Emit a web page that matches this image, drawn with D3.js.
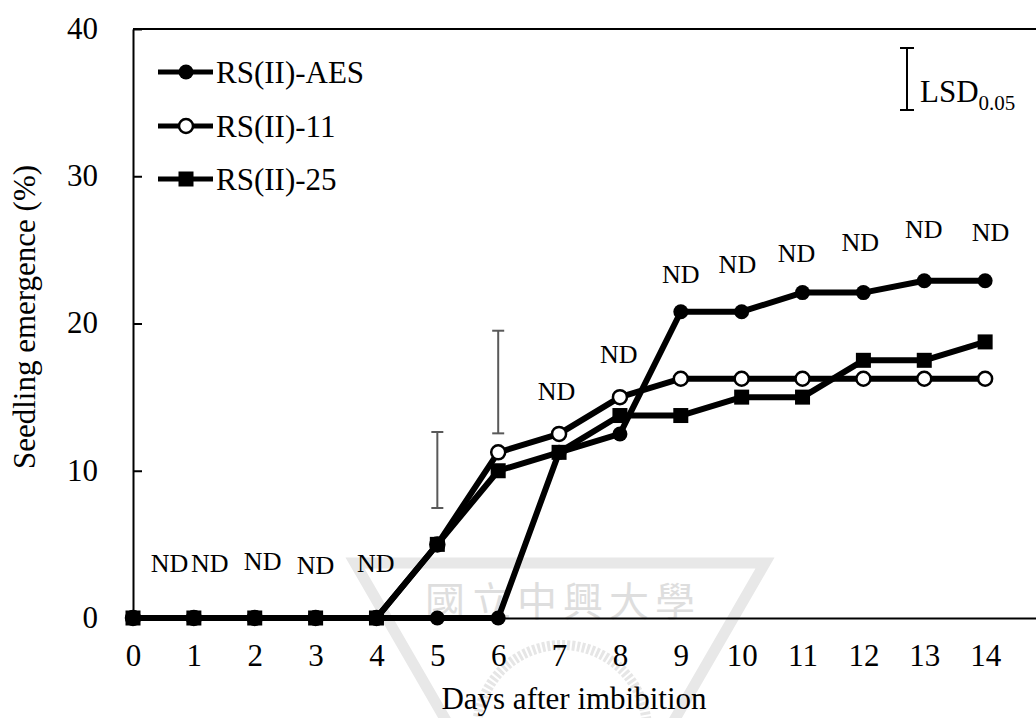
<!DOCTYPE html>
<html>
<head>
<meta charset="utf-8">
<script src="https://cdn.jsdelivr.net/npm/d3@7"></script>
<style>
    body { margin: 0; background: #fff; }
    svg { display: block; font-family: "Liberation Serif", "Times New Roman", serif; }
</style>
</head>
<body>
<svg id="chart" width="1036" height="718"></svg>
<script>

// data
var days = [0, 1, 2, 3, 4, 5, 6, 7, 8, 9, 10, 11, 12, 13, 14];
var aes  = [0, 0, 0, 0, 0, 0, 0, 11.25, 12.5, 20.8, 20.8, 22.1, 22.1, 22.9, 22.9];
var rs11 = [0, 0, 0, 0, 0, 5, 11.25, 12.5, 15, 16.25, 16.25, 16.25, 16.25, 16.25, 16.25];
var rs25 = [0, 0, 0, 0, 0, 5, 10, 11.25, 13.75, 13.75, 15, 15, 17.5, 17.5, 18.75];

var seriesNames = ["RS(II)-AES", "RS(II)-11", "RS(II)-25"];
var yTicks = [0, 10, 20, 30, 40];

// LSD bars
var lsdDays = [5, 6];
var lsdLow  = [7.47, 12.54];
var lsdHigh = [12.63, 19.51];

// "ND" notes (day, level)
var ndDays   = [0.6, 1.26, 2.13, 3.0, 3.99, 6.96, 7.98, 9.0, 9.93, 10.9, 11.95, 12.99, 14.09];
var ndLevels = [3.15, 3.15, 3.26, 3.0, 3.15, 14.8, 17.3, 22.75, 23.4, 24.2, 24.9, 25.8, 25.6];

var svg = d3.select('#chart');

var x = d3.scaleLinear().domain([0, 15]).range([133, 1046]);
var y = d3.scaleLinear().domain([0, 40]).range([618, 29]);

// faint watermark
var wm = svg.append('g').attr('class', 'watermark');
wm.append('polygon')
    .attr('points', '355,563 765,563 560,918')
    .attr('fill', 'none')
    .attr('stroke', '#e8e8e8')
    .attr('stroke-width', 11);
wm.append('circle')
    .attr('cx', 562).attr('cy', 730).attr('r', 85)
    .attr('fill', 'none')
    .attr('stroke', '#e6e6e6')
    .attr('stroke-width', 10)
    .attr('stroke-dasharray', '3 2');
wm.append('text')
    .attr('x', 563).attr('y', 616)
    .attr('text-anchor', 'middle')
    .attr('font-family', '"Noto Sans CJK TC", sans-serif')
    .attr('font-size', 40)
    .attr('letter-spacing', 6)
    .attr('fill', '#dedede')
    .text('國立中興大學');

// frame lines
svg.append('line')
    .attr('x1', x(0)).attr('x2', x(15))
    .attr('y1', y(40)).attr('y2', y(40))
    .attr('stroke', '#000').attr('stroke-width', 2);

let yAxis = d3.axisLeft(y).tickValues(yTicks).tickSizeInner(-9).tickSizeOuter(0).tickPadding(35);
let gy = svg.append('g')
    .attr('class', 'axis yAxis')
    .attr('transform', `translate(${x(0)} 0)`)
    .call(yAxis);
gy.select('.domain').attr('stroke-width', 2);
gy.selectAll('.tick line').attr('stroke-width', 2);
gy.selectAll('text')
    .attr('font-family', '"Liberation Serif", "Times New Roman", serif')
    .attr('font-size', 31)
    .attr('dy', '0.3em');

let xAxis = d3.axisBottom(x).tickValues(days).tickSize(0).tickPadding(26);
let gx = svg.append('g')
    .attr('class', 'axis xAxis')
    .attr('transform', `translate(0 ${y(0)})`)
    .call(xAxis);
gx.select('.domain').attr('stroke-width', 2);
gx.selectAll('text')
    .attr('font-family', '"Liberation Serif", "Times New Roman", serif')
    .attr('font-size', 31);

// axis titles
svg.append('text')
    .attr('x', 574).attr('y', 709)
    .attr('text-anchor', 'middle')
    .attr('font-size', 31)
    .text('Days after imbibition');

svg.append('text')
    .attr('transform', 'translate(35 317) rotate(-90)')
    .attr('text-anchor', 'middle')
    .attr('font-size', 31)
    .text('Seedling emergence (%)');

// LSD bars
var lsd = svg.append('g').attr('class', 'lsd');
lsdDays.forEach((d, i) => {
    let cx = x(d);
    lsd.append('line')
        .attr('x1', cx).attr('x2', cx)
        .attr('y1', y(lsdLow[i])).attr('y2', y(lsdHigh[i]));
    [lsdLow[i], lsdHigh[i]].forEach(v => {
        lsd.append('line')
            .attr('x1', cx - 6).attr('x2', cx + 6)
            .attr('y1', y(v)).attr('y2', y(v));
    });
});
lsd.attr('stroke', '#595959').attr('stroke-width', 2);

// series
var line = d3.line().x((d, i) => x(days[i])).y(d => y(d));

function drawMarkers(g, vals, kind, cxf, cyf) {
    if (kind === 'square') {
        g.selectAll('rect').data(vals).enter().append('rect')
            .attr('x', (d, i) => cxf(d, i) - 7.5)
            .attr('y', (d, i) => cyf(d, i) - 7.5)
            .attr('width', 15).attr('height', 15)
            .attr('fill', '#000');
    } else {
        g.selectAll('circle').data(vals).enter().append('circle')
            .attr('cx', (d, i) => cxf(d, i))
            .attr('cy', (d, i) => cyf(d, i))
            .attr('r', kind === 'open' ? 7 : 7.5)
            .attr('fill', kind === 'open' ? '#fff' : '#000')
            .attr('stroke', '#000')
            .attr('stroke-width', kind === 'open' ? 2.5 : 0);
    }
}

var series = [
    { name: seriesNames[0], values: aes, kind: 'filled' },
    { name: seriesNames[1], values: rs11, kind: 'open' },
    { name: seriesNames[2], values: rs25, kind: 'square' }
];

series.forEach(s => {
    let g = svg.append('g').attr('class', 'series');
    g.append('path')
        .attr('d', line(s.values))
        .attr('fill', 'none')
        .attr('stroke', '#000')
        .attr('stroke-width', 6)
        .attr('stroke-linejoin', 'round');
    drawMarkers(g, s.values, s.kind, (d, i) => x(days[i]), d => y(d));
});

// ND notes
svg.append('g').selectAll('text')
    .data(ndDays)
    .enter().append('text')
    .attr('x', d => x(d))
    .attr('y', (d, i) => y(ndLevels[i]))
    .attr('text-anchor', 'middle')
    .attr('font-size', 26)
    .text('ND');

// legend
var legendRows = [72, 126, 179];
var legend = svg.append('g').attr('class', 'legend');
series.forEach((s, i) => {
    let ly = legendRows[i];
    let g = legend.append('g');
    g.append('line')
        .attr('x1', 158).attr('x2', 213)
        .attr('y1', ly).attr('y2', ly)
        .attr('stroke', '#000').attr('stroke-width', 5);
    drawMarkers(g, [0], s.kind, () => 186, () => ly);
    g.append('text')
        .attr('x', 216).attr('y', ly + 11)
        .attr('font-size', 31)
        .text(s.name);
});

// LSD key
var key = svg.append('g').attr('stroke', '#000').attr('stroke-width', 2);
key.append('line').attr('x1', 907).attr('x2', 907).attr('y1', 48).attr('y2', 110);
key.append('line').attr('x1', 900).attr('x2', 914).attr('y1', 48).attr('y2', 48);
key.append('line').attr('x1', 900).attr('x2', 914).attr('y1', 110).attr('y2', 110);

var lsdText = svg.append('text')
    .attr('x', 920).attr('y', 102)
    .attr('font-size', 31);
lsdText.append('tspan').text('LSD');
lsdText.append('tspan').attr('dy', 8).attr('font-size', 21).text('0.05');

</script>
</body>
</html>
